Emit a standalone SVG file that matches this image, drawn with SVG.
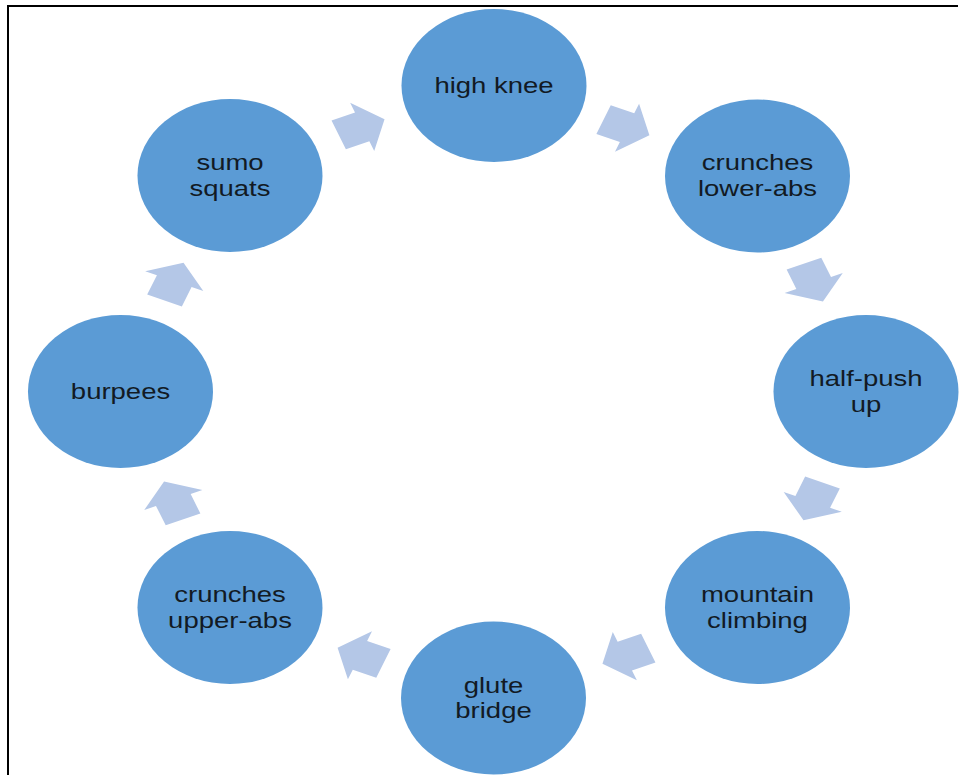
<svg xmlns="http://www.w3.org/2000/svg" width="959" height="775" viewBox="0 0 959 775">
<style>
.node ellipse{fill:#5b9bd5}
.node text{font-family:"Liberation Sans",Arial,sans-serif;font-size:22px;fill:#121a24;text-anchor:middle}
.arrow{fill:#b4c7e7}
</style>
<defs>
<polygon id="arw" class="arrow" points="-20,-15.5 1,-15.5 1,-26 21,0 1,26 1,15.5 -20,15.5"/>
</defs>
<rect width="959" height="775" fill="#ffffff"/>
<path d="M8 775 V6 H958" fill="none" stroke="#000" stroke-width="2"/>
<g id="connectors" transform="translate(493.5,391.5) scale(1.21,1)">
<use href="#arw" transform="rotate(-112.5) translate(286,0) rotate(90)"/>
<use href="#arw" transform="rotate(-67.5) translate(286,0) rotate(90)"/>
<use href="#arw" transform="rotate(-22.5) translate(286,0) rotate(90)"/>
<use href="#arw" transform="rotate(22.5) translate(286,0) rotate(90)"/>
<use href="#arw" transform="rotate(67.5) translate(286,0) rotate(90)"/>
<use href="#arw" transform="rotate(112.5) translate(286,0) rotate(90)"/>
<use href="#arw" transform="rotate(157.5) translate(286,0) rotate(90)"/>
<use href="#arw" transform="rotate(-157.5) translate(286,0) rotate(90)"/>
</g>
<g id="high-knee" class="node"><ellipse cx="494" cy="85.5" rx="92.5" ry="76.5"/><g transform="translate(494,85.5) scale(1.25,1)"><text x="0" y="7">high knee</text></g></g>
<g id="crunches-lower-abs" class="node"><ellipse cx="757.5" cy="176" rx="92.5" ry="76.5"/><g transform="translate(757.5,176) scale(1.25,1)"><text x="0" y="-6">crunches</text><text x="0" y="20">lower-abs</text></g></g>
<g id="half-push-up" class="node"><ellipse cx="866" cy="391.5" rx="92.5" ry="76.5"/><g transform="translate(866,391.5) scale(1.25,1)"><text x="0" y="-6">half-push</text><text x="0" y="20">up</text></g></g>
<g id="mountain-climbing" class="node"><ellipse cx="757.5" cy="607.5" rx="92.5" ry="76.5"/><g transform="translate(757.5,607.5) scale(1.25,1)"><text x="0" y="-6">mountain</text><text x="0" y="20">climbing</text></g></g>
<g id="glute-bridge" class="node"><ellipse cx="493.5" cy="698" rx="92.5" ry="76.5"/><g transform="translate(493.5,698) scale(1.25,1)"><text x="0" y="-5.5">glute</text><text x="0" y="20">bridge</text></g></g>
<g id="crunches-upper-abs" class="node"><ellipse cx="230" cy="607.5" rx="92.5" ry="76.5"/><g transform="translate(230,607.5) scale(1.25,1)"><text x="0" y="-6">crunches</text><text x="0" y="20">upper-abs</text></g></g>
<g id="burpees" class="node"><ellipse cx="120.5" cy="391.5" rx="92.5" ry="76.5"/><g transform="translate(120.5,391.5) scale(1.25,1)"><text x="0" y="7">burpees</text></g></g>
<g id="sumo-squats" class="node"><ellipse cx="230" cy="175.5" rx="92.5" ry="76.5"/><g transform="translate(230,175.5) scale(1.25,1)"><text x="0" y="-6">sumo</text><text x="0" y="20">squats</text></g></g>
</svg>
